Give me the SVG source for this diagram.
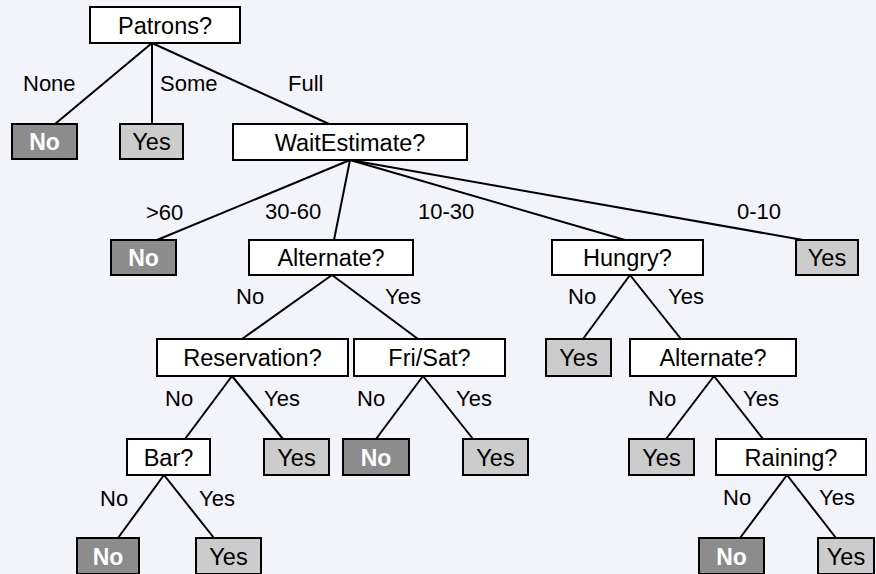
<svg xmlns="http://www.w3.org/2000/svg" width="876" height="574" viewBox="0 0 876 574">
<style>
.bg{fill:#f3f4fa}
rect.n{fill:#ffffff;stroke:#000;stroke-width:2}
rect.y{fill:#cccccc;stroke:#000;stroke-width:2}
rect.x{fill:#8c8c8c;stroke:#000;stroke-width:2}
text{font-family:"Liberation Sans",Arial,sans-serif;fill:#000}
.t{font-size:23.5px;text-anchor:middle}
.tb{font-size:23px;font-weight:bold;text-anchor:middle;fill:#fff}
.l{font-size:22px}
#edges line{stroke:#000;stroke-width:2}
</style>
<rect class="bg" x="0" y="0" width="876" height="574"/>
<g id="edges">
<line x1="152" y1="43" x2="55" y2="124"/>
<line x1="152" y1="43" x2="152" y2="124"/>
<line x1="152" y1="43" x2="329" y2="124"/>
<line x1="350" y1="160" x2="157" y2="240"/>
<line x1="350" y1="160" x2="334" y2="240"/>
<line x1="350" y1="160" x2="625" y2="240"/>
<line x1="350" y1="160" x2="803" y2="240"/>
<line x1="332" y1="275" x2="242" y2="339"/>
<line x1="332" y1="275" x2="418" y2="339"/>
<line x1="232" y1="376" x2="185" y2="439"/>
<line x1="232" y1="376" x2="283" y2="439"/>
<line x1="423" y1="376" x2="376" y2="439"/>
<line x1="423" y1="376" x2="473" y2="439"/>
<line x1="164" y1="475" x2="118" y2="538"/>
<line x1="164" y1="475" x2="214" y2="538"/>
<line x1="630" y1="275" x2="583" y2="339"/>
<line x1="630" y1="275" x2="681" y2="339"/>
<line x1="714" y1="376" x2="666" y2="439"/>
<line x1="714" y1="376" x2="763" y2="439"/>
<line x1="787" y1="475" x2="740" y2="538"/>
<line x1="787" y1="475" x2="836" y2="538"/>
</g>
<g id="edge-labels">
<text class="l" x="23" y="91">None</text>
<text class="l" x="160" y="91">Some</text>
<text class="l" x="288" y="91">Full</text>
<text class="l" x="146" y="220">&gt;60</text>
<text class="l" x="265" y="219">30-60</text>
<text class="l" x="418" y="219">10-30</text>
<text class="l" x="737" y="219">0-10</text>
<text class="l" x="236" y="304">No</text>
<text class="l" x="385" y="304">Yes</text>
<text class="l" x="568" y="304">No</text>
<text class="l" x="668" y="304">Yes</text>
<text class="l" x="165" y="406">No</text>
<text class="l" x="264" y="406">Yes</text>
<text class="l" x="357" y="406">No</text>
<text class="l" x="456" y="406">Yes</text>
<text class="l" x="648" y="406">No</text>
<text class="l" x="743" y="406">Yes</text>
<text class="l" x="100" y="506">No</text>
<text class="l" x="199" y="506">Yes</text>
<text class="l" x="723" y="505">No</text>
<text class="l" x="819" y="505">Yes</text>
</g>
<g id="patrons"><rect class="n" x="90" y="7" width="150" height="36"/><text class="t" x="165" y="33.5">Patrons?</text></g>
<g id="no1"><rect class="x" x="12" y="124" width="65" height="35"/><text class="tb" x="44.5" y="150">No</text></g>
<g id="yes1"><rect class="y" x="120" y="124" width="63" height="35"/><text class="t" x="151.5" y="150">Yes</text></g>
<g id="waitestimate"><rect class="n" x="233" y="124" width="234" height="36"/><text class="t" x="350" y="150.5">WaitEstimate?</text></g>
<g id="no2"><rect class="x" x="111" y="240" width="65" height="35"/><text class="tb" x="143.5" y="266">No</text></g>
<g id="alternate1"><rect class="n" x="249" y="240" width="164" height="35"/><text class="t" x="331" y="266">Alternate?</text></g>
<g id="hungry"><rect class="n" x="552" y="240" width="151" height="35"/><text class="t" x="627.5" y="266">Hungry?</text></g>
<g id="yes2"><rect class="y" x="796" y="240" width="62" height="35"/><text class="t" x="827" y="266">Yes</text></g>
<g id="reservation"><rect class="n" x="157" y="339" width="191" height="37"/><text class="t" x="252.5" y="366">Reservation?</text></g>
<g id="frisat"><rect class="n" x="354" y="339" width="151" height="37"/><text class="t" x="429.5" y="366">Fri/Sat?</text></g>
<g id="yes-hungry-no"><rect class="y" x="546" y="339" width="65" height="37"/><text class="t" x="578.5" y="366">Yes</text></g>
<g id="alternate2"><rect class="n" x="630" y="339" width="166" height="37"/><text class="t" x="713" y="366">Alternate?</text></g>
<g id="bar"><rect class="n" x="127" y="439" width="83" height="36"/><text class="t" x="168.5" y="465.5">Bar?</text></g>
<g id="yes-res"><rect class="y" x="264" y="439" width="65" height="36"/><text class="t" x="296.5" y="465.5">Yes</text></g>
<g id="no-frisat"><rect class="x" x="343" y="439" width="66" height="36"/><text class="tb" x="376" y="465.5">No</text></g>
<g id="yes-frisat"><rect class="y" x="463" y="439" width="65" height="36"/><text class="t" x="495.5" y="465.5">Yes</text></g>
<g id="yes-alt2"><rect class="y" x="629" y="439" width="65" height="36"/><text class="t" x="661.5" y="465.5">Yes</text></g>
<g id="raining"><rect class="n" x="716" y="439" width="150" height="36"/><text class="t" x="791" y="465.5">Raining?</text></g>
<g id="no-bar"><rect class="x" x="77" y="538" width="62" height="36"/><text class="tb" x="108" y="564.5">No</text></g>
<g id="yes-bar"><rect class="y" x="196" y="538" width="65" height="36"/><text class="t" x="228.5" y="564.5">Yes</text></g>
<g id="no-rain"><rect class="x" x="699" y="538" width="65" height="36"/><text class="tb" x="731.5" y="564.5">No</text></g>
<g id="yes-rain"><rect class="y" x="818" y="538" width="56" height="36"/><text class="t" x="846" y="564.5">Yes</text></g>
</svg>
